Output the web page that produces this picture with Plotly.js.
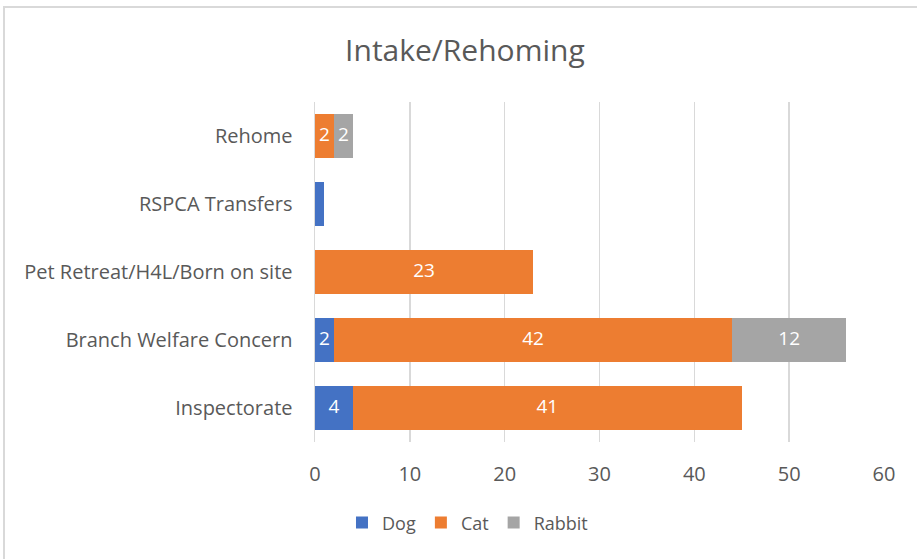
<!DOCTYPE html>
<html>
<head>
<meta charset="utf-8">
<script src="https://cdn.plot.ly/plotly-3.0.1.min.js"></script>
<style>
  html, body { margin: 0; padding: 0; background: #fff; }
  #frame { position: absolute; left: 3px; top: 6px; width: 930px; height: 570px;
           border-left: 2px solid #d9d9d9; border-top: 2px solid #d9d9d9; }
  #chart { position: absolute; left: 0; top: 0; width: 917px; height: 559px; }
</style>
</head>
<body>
<div id="frame"></div>
<div id="chart"></div>
<script>
const categories = ["Inspectorate", "Branch Welfare Concern", "Pet Retreat/H4L/Born on site", "RSPCA Transfers", "Rehome"];
const dogValues = [4, 2, 0, 1, 0];
const catValues = [41, 42, 23, 0, 2];
const rabbitValues = [0, 12, 0, 0, 2];
const xTickValues = [0, 10, 20, 30, 40, 50, 60];

const FONT = "Open Sans, Noto Sans, sans-serif";
function labels(vals) { return vals.map(v => v >= 2 ? String(v) : ""); }

const seriesList = [
  { name: "Dog", vals: dogValues, color: "#4472C4" },
  { name: "Cat", vals: catValues, color: "#ED7D31" },
  { name: "Rabbit", vals: rabbitValues, color: "#A5A5A5" }
];

const data = [];
const base = categories.map(() => 0);
const textTraces = [];
seriesList.forEach(s => {
  data.push({
    type: "bar", orientation: "h", name: s.name,
    y: categories, x: s.vals,
    marker: { color: s.color },
    hoverinfo: "x+name"
  });
  const mids = s.vals.map((v, i) => base[i] + v / 2);
  textTraces.push({
    type: "scatter", mode: "text", showlegend: false, hoverinfo: "skip",
    x: mids, y: categories, text: labels(s.vals),
    textposition: "middle center",
    textfont: { color: "#ffffff", size: 19, family: FONT }
  });
  s.vals.forEach((v, i) => { base[i] += v; });
});
textTraces.forEach(t => data.push(t));

const layout = {
  width: 917, height: 559,
  paper_bgcolor: "rgba(0,0,0,0)", plot_bgcolor: "rgba(0,0,0,0)",
  barmode: "stack", bargap: 0.34,
  margin: { l: 315, r: 33, t: 102, b: 117 },
  font: { family: FONT, color: "#595959" },
  title: { text: "Intake/Rehoming", font: { size: 30, color: "#595959", family: FONT },
           x: 0.507, xanchor: "center", y: 0.91, yanchor: "middle", yref: "container" },
  xaxis: {
    range: [0, 60], tickvals: xTickValues, ticktext: xTickValues.map(String),
    showgrid: true, gridcolor: "#d9d9d9", gridwidth: 1.5,
    zeroline: false, showline: false,
    ticks: "outside", ticklen: 14, tickcolor: "rgba(0,0,0,0)",
    tickfont: { size: 20, color: "#595959", family: FONT },
    fixedrange: true
  },
  yaxis: {
    categoryorder: "array", categoryarray: categories,
    showline: true, linecolor: "#d9d9d9", linewidth: 1.5,
    showgrid: false, zeroline: false,
    ticks: "outside", ticklen: 17, tickcolor: "rgba(0,0,0,0)",
    tickfont: { size: 20, color: "#595959", family: FONT },
    fixedrange: true
  },
  showlegend: true,
  legend: { orientation: "h", x: 0.268, xanchor: "center", y: -0.238, yanchor: "middle",
            font: { size: 18, color: "#595959", family: FONT }, traceorder: "normal",
            itemwidth: 30 }
};

Plotly.newPlot("chart", data, layout, { displayModeBar: false, staticPlot: true });
</script>
</body>
</html>
